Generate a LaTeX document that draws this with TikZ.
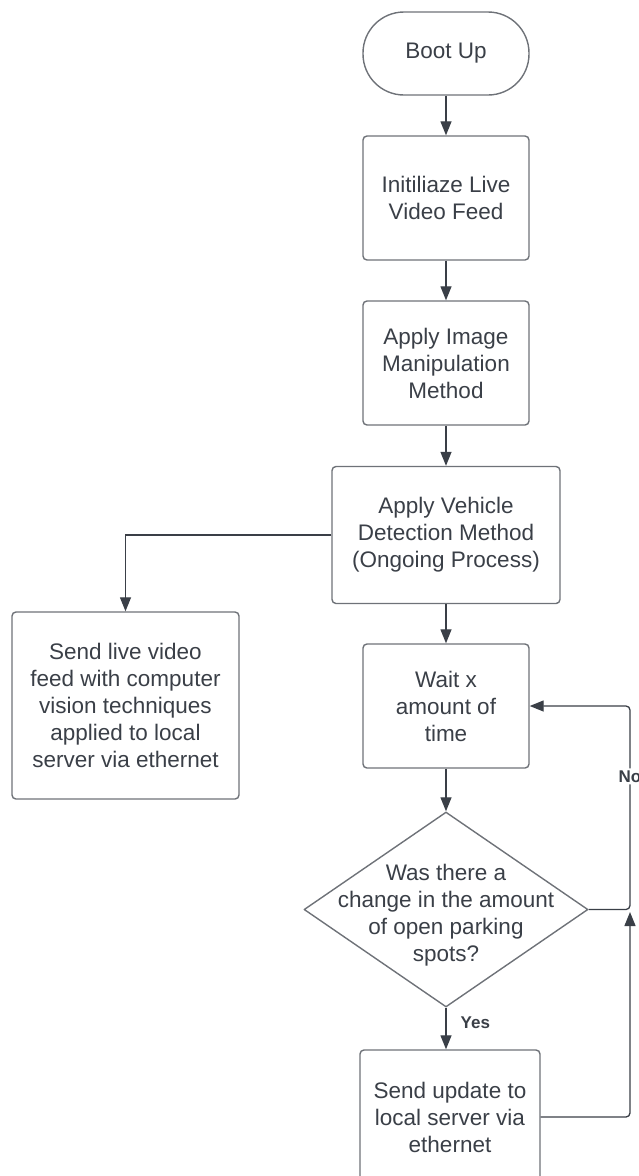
\documentclass[tikz,border=0pt]{standalone}
\usepackage{fontspec}
\setmainfont{Liberation Sans}
\usetikzlibrary{arrows.meta,shapes.geometric}
\definecolor{inkgray}{HTML}{3A3F47}
\definecolor{edgegray}{HTML}{6E7278}

\begin{document}
\begin{tikzpicture}[x=1pt,y=-1pt,
    every node/.style={text=inkgray,font=\fontsize{22.5}{27}\selectfont},
    stepbox/.style={draw=edgegray,line width=1.4pt,rounded corners=4pt,align=center,inner sep=0pt},
    terminal/.style={stepbox,rounded corners=41pt,minimum width=166pt,minimum height=83pt},
    decision/.style={shape=diamond,draw=edgegray,line width=1.4pt,line join=round,minimum width=284pt,minimum height=195pt,inner sep=0pt,aspect=1.46},
    flow/.style={draw=inkgray,line width=1.3pt,-{Triangle[length=14pt,width=11pt]}},
    tag/.style={font=\fontsize{17}{20}\selectfont\bfseries,inner sep=2pt}]
    \useasboundingbox (0,0) rectangle (639,1176);
    \clip (0,0) rectangle (639,1176);

    \node[terminal] (boot) at (446,53.5) {Boot Up};
    \node[stepbox,minimum width=166pt,minimum height=124pt] (init) at (446,198) {Initiliaze Live\\Video Feed};
    \node[stepbox,minimum width=166pt,minimum height=124pt] (manip) at (446,363) {Apply Image\\Manipulation\\Method};
    \node[stepbox,minimum width=228pt,minimum height=137pt] (detect) at (446,535) {Apply Vehicle\\Detection Method\\(Ongoing Process)};
    \node[stepbox,minimum width=227pt,minimum height=187pt] (live) at (125.5,705.5) {Send live video\\feed with computer\\vision techniques\\applied to local\\server via ethernet};
    \node[stepbox,minimum width=166pt,minimum height=124pt] (wait) at (446,706) {Wait x\\amount of\\time};
    \node[decision,label={[align=center,yshift=-6pt]center:Was there a\\change in the amount\\of open parking\\spots?}] (dec) at (446,909.5) {};
    \node[stepbox,minimum width=180pt,minimum height=134pt] (update) at (450,1117) {Send update to\\local server via\\ethernet};
    \coordinate (rail) at (630,909.5);
    \coordinate (railend) at (630,912);

    \draw[flow] (boot) -- (init);
    \draw[flow] (init) -- (manip);
    \draw[flow] (manip) -- (detect);
    \draw[flow] (detect.west) -| (live.north);
    \draw[flow] (detect) -- (wait);
    \draw[flow] (wait) -- (dec);
    \draw[flow] (dec.south) -- node[tag,right=12pt,pos=0.35] {Yes} (dec.south |- update.north);
    \draw[flow,rounded corners=4pt] (dec.east) -- (rail) |- node[tag,fill=white,pos=0.327] {No} (wait.east);
    \draw[flow,rounded corners=4pt] (update.east) -| (railend);
\end{tikzpicture}
\end{document}
